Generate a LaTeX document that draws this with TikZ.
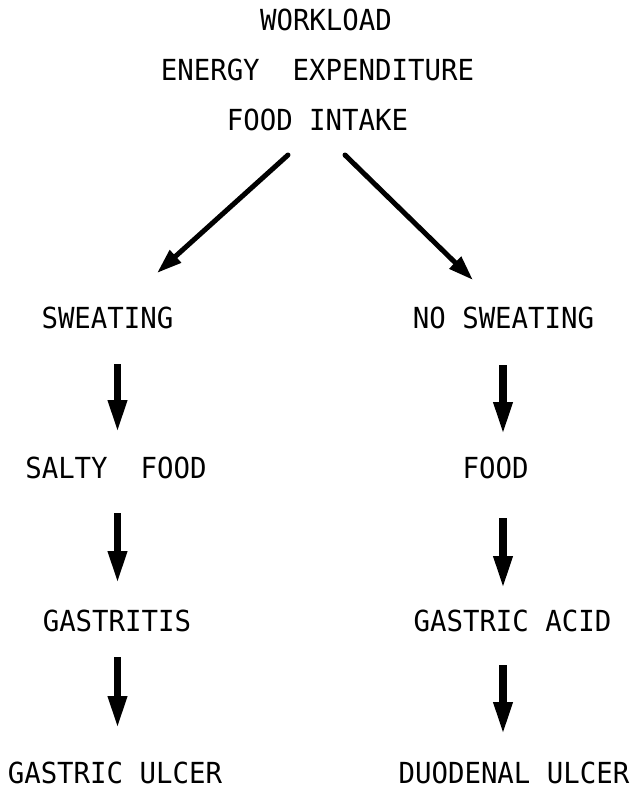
\documentclass[tikz,border=0pt]{standalone}
\usepackage{fontspec}
\newfontfamily\labfont[FakeStretch=0.945]{DejaVu Sans Mono}
\usetikzlibrary{arrows.meta}
\tikzset{
  lbl/.style={inner sep=0pt, anchor=base, font=\labfont\fontsize{29pt}{30pt}\selectfont},
  diagarr/.style={line width=5pt, line cap=round, -{Triangle[length=25pt,width=16pt]}},
  vertarr/.style={line width=7.5pt, -{Triangle[length=33pt,width=17.5pt]}}
}
\begin{document}
\begin{tikzpicture}[x=1pt,y=-1pt]
\useasboundingbox (0,0) rectangle (632,790);
\node[lbl] (wl)  at (326,30)    {WORKLOAD};
\node[lbl] (ee)  at (317.5,80)  {ENERGY\ \ EXPENDITURE};
\node[lbl] (fi)  at (317.5,130) {FOOD INTAKE};
\node[lbl] (sw)  at (107.5,328) {SWEATING};
\node[lbl] (nsw) at (503.5,328) {NO SWEATING};
\node[lbl] (sf)  at (116,478)   {SALTY\ \ FOOD};
\node[lbl] (fd)  at (495.5,478) {FOOD};
\node[lbl] (ga)  at (117,631)   {GASTRITIS};
\node[lbl] (gac) at (512.5,631) {GASTRIC ACID};
\node[lbl] (gu)  at (115,783)   {GASTRIC ULCER};
\node[lbl] (du)  at (514,783)   {DUODENAL ULCER};
% diagonal arrows
\draw[diagarr] ([xshift=-29.5pt,yshift=-25pt]fi.base) -- ([xshift=49.5pt,yshift=55pt]sw.base);
\draw[diagarr] ([xshift=27.5pt,yshift=-25pt]fi.base) -- ([xshift=-30.5pt,yshift=48pt]nsw.base);
% left column
\draw[vertarr] ([xshift=10pt,yshift=-36pt]sw.base) -- ([xshift=1.5pt,yshift=45pt]sf.base);
\draw[vertarr] ([xshift=1.5pt,yshift=-35pt]sf.base) -- ([xshift=0.5pt,yshift=47pt]ga.base);
\draw[vertarr] ([xshift=0.5pt,yshift=-26pt]ga.base) -- ([xshift=2.5pt,yshift=54pt]gu.base);
% right column
\draw[vertarr] ([xshift=-0.5pt,yshift=-37pt]nsw.base) -- ([xshift=7.5pt,yshift=43pt]fd.base);
\draw[vertarr] ([xshift=7.5pt,yshift=-40pt]fd.base) -- ([xshift=-9.5pt,yshift=42pt]gac.base);
\draw[vertarr] ([xshift=-9.5pt,yshift=-34pt]gac.base) -- ([xshift=-11pt,yshift=48pt]du.base);
\end{tikzpicture}
\end{document}
